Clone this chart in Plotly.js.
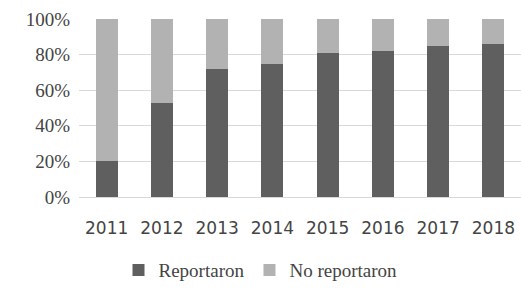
<!DOCTYPE html>
<html><head><meta charset="utf-8">
<script src="https://cdn.plot.ly/plotly-3.0.1.min.js"></script>
<style>html,body{margin:0;padding:0;background:#fff;}#chart{width:521px;height:292px;}</style>
</head><body><div id="chart"></div>
<script>
const years = ['2011','2012','2013','2014','2015','2016','2017','2018'];
const reportaron = [20, 53, 72, 75, 81, 82, 85, 86];
const noReportaron = [80, 47, 28, 25, 19, 18, 15, 14];
const yTicks = [0, 20, 40, 60, 80, 100];
const yTickLabels = ['0%', '20%', '40%', '60%', '80%', '100%'];

const traces = [
  {type:'bar', name:'Reportaron', x:years, y:reportaron, marker:{color:'#5f5f5f'}},
  {type:'bar', name:'No reportaron', x:years, y:noReportaron, marker:{color:'#b2b2b2'}}
];
const layout = {
  width:521, height:292, barmode:'stack', bargap:0.6,
  margin:{l:79, r:0, t:19, b:95},
  xaxis:{type:'category', tickfont:{family:'DejaVu Sans', size:17},
         showline:true, linecolor:'#d9d9d9', linewidth:1, ticks:'', ticklabelstandoff:16},
  yaxis:{range:[0,100], tickvals:yTicks, ticktext:yTickLabels,
         tickfont:{family:'Liberation Serif', size:19},
         gridcolor:'#d9d9d9', zeroline:false, ticklabelstandoff:8},
  legend:{orientation:'h', traceorder:'normal', x:0.5, xanchor:'center', xref:'container', yref:'container', y:0.01, yanchor:'bottom',
          font:{family:'Liberation Serif', size:19}}
};
Plotly.newPlot('chart', traces, layout, {displayModeBar:false});
</script></body></html>
